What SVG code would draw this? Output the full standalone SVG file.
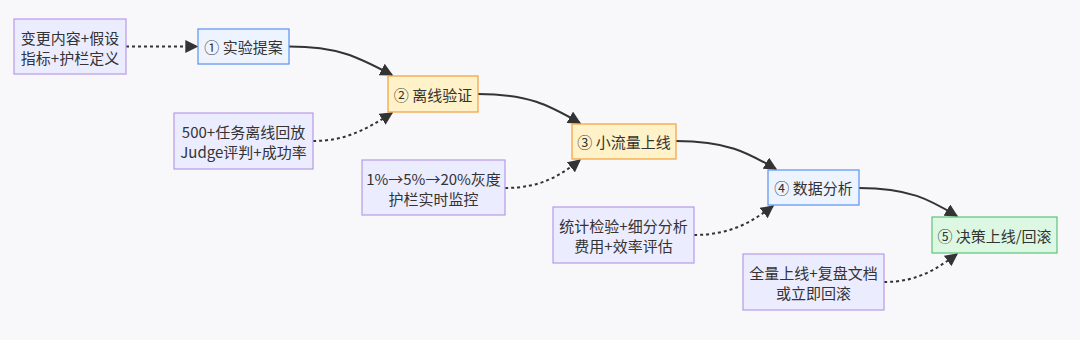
<svg xmlns="http://www.w3.org/2000/svg" width="1080" height="340" viewBox="0 0 1080 340">
<style>
text{font-family:"Noto Sans CJK SC","Liberation Sans",sans-serif;font-size:15px;fill:#333;text-anchor:middle;dominant-baseline:central}
.note rect{fill:#ececff;stroke:#b79be6;stroke-width:1.2}
.blue rect{fill:#eef4ff;stroke:#5b8ff0;stroke-width:1.2}
.orange rect{fill:#fff2c8;stroke:#f2a03c;stroke-width:1.2}
.green rect{fill:#dcf8e2;stroke:#5cc47a;stroke-width:1.2}
.solid{fill:none;stroke:#333;stroke-width:2;marker-end:url(#ah)}
.dot{fill:none;stroke:#333;stroke-width:2;stroke-dasharray:3 3;marker-end:url(#ah)}
</style>
<defs>
<marker id="ah" viewBox="0 0 10 10" refX="9" refY="5" markerWidth="13" markerHeight="13" markerUnits="userSpaceOnUse" orient="auto">
<path d="M0,0 L10,5 L0,10 z" fill="#333"/>
</marker>
</defs>
<rect width="1080" height="340" fill="#f8f8fb"/>
<g id="connectors">
<path class="dot" d="M126,46.5 L197,46.5"/>
<path class="solid" d="M289,46.5 C340,46.5 360,58 392,75"/>
<path class="dot" d="M313,141 C345,141 365,130 392,113"/>
<path class="solid" d="M478,94 C530,94 550,106 580,123"/>
<path class="dot" d="M505,188 C540,188 560,176 580,160"/>
<path class="solid" d="M676,141 C728,141 748,153 776,169"/>
<path class="dot" d="M694,235 C730,235 752,222 773,206"/>
<path class="solid" d="M859,188 C910,188 930,200 957,216"/>
<path class="dot" d="M884,282 C918,282 938,268 957,254"/>
</g>
<g id="note1" class="note"><rect x="14" y="19" width="112" height="55"/><text x="70" y="37">变更内容+假设</text><text x="70" y="57">指标+护栏定义</text></g>
<g id="n1" class="blue"><rect x="198" y="29" width="91" height="35"/><text x="243.5" y="46.5">① 实验提案</text></g>
<g id="note2" class="note"><rect x="174" y="113" width="139" height="56"/><text x="243.5" y="131">500+任务离线回放</text><text x="243.5" y="151">Judge评判+成功率</text></g>
<g id="n2" class="orange"><rect x="388" y="76" width="90" height="36"/><text x="433" y="94">② 离线验证</text></g>
<g id="note3" class="note"><rect x="362" y="160" width="143" height="55"/><text x="433.5" y="178">1%→5%→20%灰度</text><text x="433.5" y="198">护栏实时监控</text></g>
<g id="n3" class="orange"><rect x="572" y="124" width="104" height="35"/><text x="624" y="141.5">③ 小流量上线</text></g>
<g id="note4" class="note"><rect x="553" y="207" width="141" height="56"/><text x="623.5" y="225">统计检验+细分分析</text><text x="623.5" y="245">费用+效率评估</text></g>
<g id="n4" class="blue"><rect x="768" y="170" width="91" height="35"/><text x="813.5" y="187.5">④ 数据分析</text></g>
<g id="note5" class="note"><rect x="743" y="254" width="141" height="56"/><text x="813.5" y="272">全量上线+复盘文档</text><text x="813.5" y="292">或立即回滚</text></g>
<g id="n5" class="green"><rect x="932" y="217" width="125" height="36"/><text x="994.5" y="235">⑤ 决策上线/回滚</text></g>
</svg>
